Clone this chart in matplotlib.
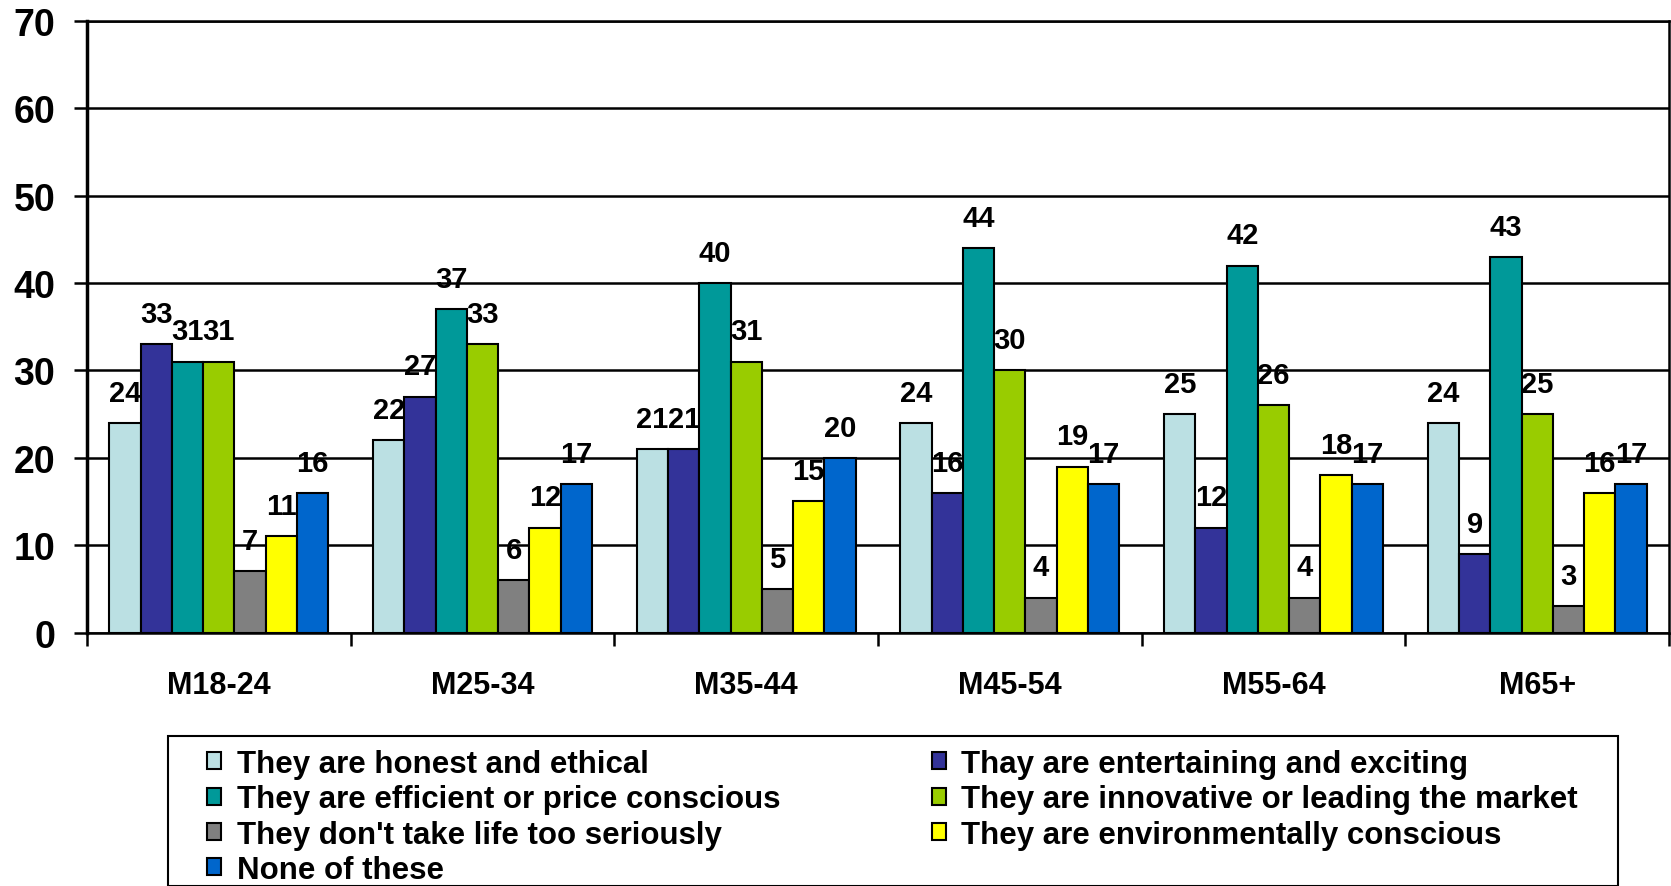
import matplotlib
matplotlib.use("Agg")
import matplotlib.pyplot as plt
from matplotlib.patches import Rectangle
import numpy as np

plt.rcParams['font.family'] = ['Liberation Sans', 'DejaVu Sans']
plt.rcParams['font.weight'] = 'bold'

categories = ["M18-24", "M25-34", "M35-44", "M45-54", "M55-64", "M65+"]
series_names = [
    "They are honest and ethical",
    "Thay are entertaining and exciting",
    "They are efficient or price conscious",
    "They are innovative or leading the market",
    "They don't take life too seriously",
    "They are environmentally conscious",
    "None of these",
]
honest = [24, 22, 21, 24, 25, 24]
entertaining = [33, 27, 21, 16, 12, 9]
efficient = [31, 37, 40, 44, 42, 43]
innovative = [31, 33, 31, 30, 26, 25]
not_serious = [7, 6, 5, 4, 4, 3]
environmental = [11, 12, 15, 19, 18, 16]
none_of_these = [16, 17, 20, 17, 17, 17]
series_values = [honest, entertaining, efficient, innovative, not_serious, environmental, none_of_these]
colors = ["#BBE0E3", "#333399", "#009999", "#99CC00", "#808080", "#FFFF00", "#0066CC"]
y_ticks = [0, 10, 20, 30, 40, 50, 60, 70]

W, H = 1671, 887
fig = plt.figure(figsize=(W / 100, H / 100), dpi=100)
ax = fig.add_axes([87 / W, 1 - 633.5 / H, (1669 - 87) / W, (633.5 - 22) / H])

n = len(series_values)
bw = 0.1185
x = np.arange(len(categories))
handles = []
for i, (vals, c, name) in enumerate(zip(series_values, colors, series_names)):
    pos = x + (i - (n - 1) / 2) * bw
    b = ax.bar(pos, vals, width=bw, color=c, edgecolor="black", linewidth=1.5, label=name, zorder=3)
    handles.append(b)
    for px, v in zip(pos, vals):
        ax.annotate(str(v), (px, v), xytext=(0, 16), textcoords="offset points",
                    ha="center", va="baseline", fontsize=21, fontweight="bold", zorder=4)

ax.set_xlim(-0.5, len(categories) - 0.5)
ax.set_ylim(0, 70)
ax.set_yticks(y_ticks)
ax.set_yticklabels([str(t) for t in y_ticks], fontsize=27, fontweight="bold")
ax.yaxis.grid(True, color="black", linewidth=1.8, zorder=0)
ax.tick_params(axis="y", length=9.4, width=1.8, pad=13.5)

ax.set_xticks(x)
ax.set_xticklabels(categories, fontsize=22, fontweight="bold")
ax.set_xticks(np.arange(-0.5, len(categories) + 0.5, 1), minor=True)
ax.tick_params(axis="x", which="major", length=0, pad=27)
ax.tick_params(axis="x", which="minor", length=9, width=1.8, direction="out")

for s in ax.spines.values():
    s.set_linewidth(1.8)
    s.set_color("black")
ax.spines["left"].set_linewidth(2.5)

# legend frame
fig.patches.append(Rectangle((168 / W, 0), (1618 - 168) / W, 1 - 737 / H,
                             transform=fig.transFigure, fill=False, edgecolor="black",
                             linewidth=1.5, clip_on=False))

order = [0, 2, 4, 6, 1, 3, 5]
leg = fig.legend([handles[i] for i in order], [series_names[i] for i in order],
                 loc="upper left", bbox_to_anchor=(207 / W, 1 - 750 / H),
                 ncol=2, frameon=False,
                 prop={"size": 22.5, "weight": "bold"},
                 handlelength=0.45, handleheight=0.45, handletextpad=0.5,
                 columnspacing=4.85, labelspacing=0.17, borderpad=0, borderaxespad=0)

fig.savefig("out.png", dpi=100)
